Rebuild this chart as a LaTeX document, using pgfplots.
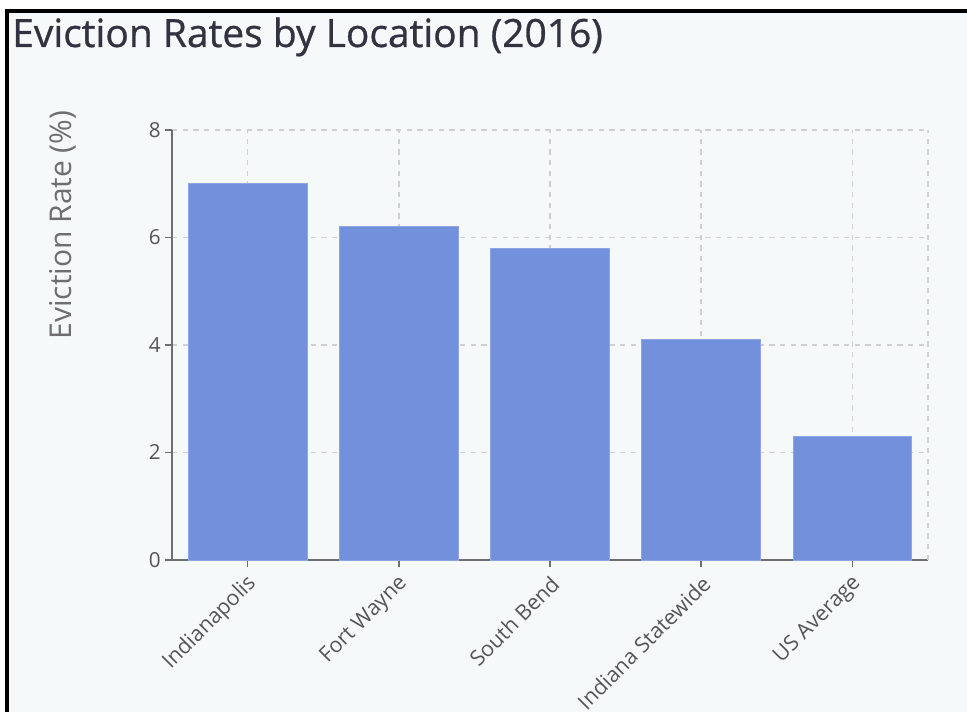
\documentclass[border=0pt]{standalone}
\usepackage{pgfplots}
\pgfplotsset{compat=1.18}
\usepackage{fontspec}
\setmainfont{Open Sans}
\newfontfamily\titlefont{Open Sans}[FakeBold=0.8]
\definecolor{panel}{RGB}{245,249,250}
\definecolor{barc}{RGB}{115,144,221}
\definecolor{barline}{RGB}{140,165,230}
\definecolor{gridc}{RGB}{208,208,210}
\definecolor{axisc}{RGB}{110,110,110}
\definecolor{tickc}{RGB}{85,85,85}
\definecolor{titlec}{RGB}{50,50,64}
\definecolor{labc}{RGB}{110,110,110}
\begin{document}
\begin{tikzpicture}
\path[use as bounding box] (0pt,0pt) rectangle (725.25pt,534pt);
\begin{scope}
\clip (0pt,0pt) rectangle (725.25pt,534pt);
\fill[white] (0pt,0pt) rectangle (725.25pt,534pt);
\fill[panel] (6.75pt,0pt) rectangle (725.25pt,524.25pt);
\fill[black] (3.75pt,0pt) rectangle (6.75pt,527.25pt);
\fill[black] (3.75pt,524.25pt) rectangle (725.25pt,527.25pt);
\node[anchor=base west, inner sep=0pt, text=titlec, font=\titlefont\fontsize{29.2}{33}\selectfont] at (9pt,498.75pt) {Eviction Rates by Location (2016)};
\begin{axis}[
  at={(129pt,114pt)}, anchor=south west,
  width=567pt, height=322.5pt, scale only axis,
  xmin=-0.5, xmax=4.5, ymin=0, ymax=8,
  axis x line*=bottom, axis y line*=left,
  axis line style={axisc, line width=1.1pt, -},
  xtick={0,1,2,3,4},
  xticklabels={Indianapolis,Fort Wayne,South Bend,Indiana Statewide,US Average},
  ytick={0,2,4,6,8},
  tick align=outside, major tick length=5pt,
  tick style={axisc, line width=1.1pt},
  grid=major,
  grid style={gridc, line width=1.1pt, dash pattern=on 4pt off 4pt},
  xticklabel style={xshift=4pt, yshift=-10pt, rotate=45, anchor=east, text=tickc, font=\fontsize{16}{18}\selectfont, inner sep=0pt},
  yticklabel style={text=tickc, font=\fontsize{15.5}{18}\selectfont},
  /pgf/number format/assume math mode=true,
  ylabel={Eviction Rate (\%)},
  ylabel style={at={(axis description cs:-0.144,0.779)}, anchor=center, rotate=0, text=labc, font=\fontsize{22.5}{26}\selectfont},
  clip=false,
]
\draw[gridc, line width=1.1pt, dash pattern=on 4pt off 4pt] (rel axis cs:1,0) -- (rel axis cs:1,1);
\addplot[ybar, bar width=0.785, fill=barc, draw=barline, line width=0.6pt] coordinates {(0,7.0) (1,6.2) (2,5.8) (3,4.1) (4,2.3)};
\end{axis}
\end{scope}
\end{tikzpicture}
\end{document}
